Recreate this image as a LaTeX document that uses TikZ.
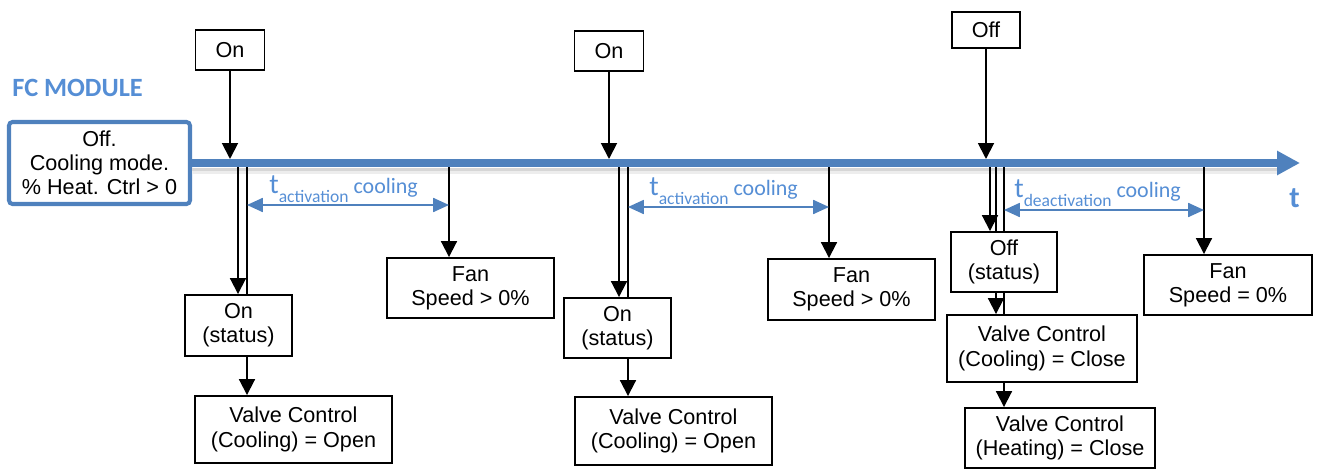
\documentclass[tikz,border=0pt]{standalone}
\usepackage{fontspec}
\setmainfont{Liberation Sans}
\newfontfamily\califont{Carlito}
\usetikzlibrary{arrows.meta}
\definecolor{fcblue}{HTML}{4F81BD}
\definecolor{fctext}{HTML}{558ED5}
% t with a lowered index, then the word after it
\newcommand{\tspan}[2]{{\fontsize{16}{17}\selectfont t}\raisebox{-5.5pt}{\fontsize{10}{11}\selectfont #1} #2}

\begin{document}
\begin{tikzpicture}[x=0.02cm, y=-0.02cm,
  box/.style={draw, line width=1.1pt, align=center, inner sep=0pt, font=\fontsize{12.3}{13.8}\selectfont},
  arr/.style={line width=1.1pt, -{Triangle[width=9pt,length=9pt]}},
  plain/.style={line width=1.1pt},
  dim/.style={fcblue, line width=0.9pt, {Triangle[width=8pt,length=9pt]}-{Triangle[width=8pt,length=9pt]}},
  tlab/.style={text=fctext, font=\califont\fontsize{12.5}{14}\selectfont, inner sep=0pt, anchor=base west},
]
\useasboundingbox (0,0) rectangle (1320,470);

% module state and time axis
\node[font=\califont\bfseries\fontsize{15}{18}\selectfont, text=fctext, anchor=west, inner sep=0pt] (title) at (12,88) {FC MODULE};
\node[box, draw=fcblue, line width=2.3pt, rounded corners=2pt, minimum width=3.62cm, minimum height=1.64cm] (src) at (99.5,163) {Off.\\Cooling mode.\\\% Heat. Ctrl > 0};
\coordinate (tend) at (1300,163);
\coordinate (tltop) at (0,159);
\draw[black!16, line width=0.06cm] (192,169) -- (1278,169);
\draw[black!7, line width=0.06cm] (192,172) -- (1278,172);
\draw[fcblue, line width=4pt, -{Triangle[width=13pt,length=13pt]}] (src.east) -- (tend);
\node[tlab, font=\califont\bfseries\fontsize{17}{20}\selectfont] (tax) at (1289,207) {t};

% first switch on
\node[box, minimum width=1.38cm, minimum height=0.8cm] (on1) at (230,50) {On};
\node[box, minimum width=2.14cm, minimum height=1.22cm] (stat1) at (238.5,325.5) {On\\(status)};
\node[box, minimum width=3.94cm, minimum height=1.34cm] (valve1) at (293.5,429.5) {Valve Control\\(Cooling) = Open};
\node[box, minimum width=3.34cm, minimum height=1.2cm] (fan1) at (470.5,288) {Fan\\Speed > 0\%};
\coordinate (a1) at (238,167);
\coordinate (b1) at (247,167);
\coordinate (f1) at (449,167);
\coordinate (dy1) at (0,205);
\draw[arr] (on1) -- (on1 |- tltop);
\draw[arr] (a1) -- (a1 |- stat1.north);
\draw[plain] (b1) -- (b1 |- stat1.north);
\draw[arr] (b1 |- stat1.south) -- (b1 |- valve1.north);
\draw[arr] (f1) -- (f1 |- fan1.north);
\draw[dim] (b1 |- dy1) -- (f1 |- dy1);
\node[tlab] (lab1) at (269,193) {\tspan{activation}{cooling}};

% second switch on
\node[box, minimum width=1.38cm, minimum height=0.8cm] (on2) at (609,51) {On};
\node[box, minimum width=2.14cm, minimum height=1.2cm] (stat2) at (617.5,328) {On\\(status)};
\node[box, minimum width=3.94cm, minimum height=1.36cm] (valve2) at (673.5,431) {Valve Control\\(Cooling) = Open};
\node[box, minimum width=3.34cm, minimum height=1.22cm] (fan2) at (851.5,289.5) {Fan\\Speed > 0\%};
\coordinate (a2) at (619,167);
\coordinate (b2) at (628,167);
\coordinate (f2) at (829,167);
\coordinate (dy2) at (0,207);
\draw[arr] (on2) -- (on2 |- tltop);
\draw[arr] (a2) -- (a2 |- stat2.north);
\draw[plain] (b2) -- (b2 |- stat2.north);
\draw[arr] (b2 |- stat2.south) -- (b2 |- valve2.north);
\draw[arr] (f2) -- (f2 |- fan2.north);
\draw[dim] (b2 |- dy2) -- (f2 |- dy2);
\node[tlab] (lab2) at (649,195) {\tspan{activation}{cooling}};

% switch off
\node[box, minimum width=1.36cm, minimum height=0.72cm] (off3) at (986,30) {Off};
\node[box, minimum width=2.12cm, minimum height=1.2cm] (stat3) at (1004,262) {Off\\(status)};
\node[box, minimum width=3.8cm, minimum height=1.34cm] (valvec3) at (1042,348.5) {Valve Control\\(Cooling) = Close};
\node[box, minimum width=3.8cm, minimum height=1.2cm] (valveh3) at (1060,438) {Valve Control\\(Heating) = Close};
\node[box, minimum width=3.36cm, minimum height=1.2cm] (fan3) at (1228,285) {Fan\\Speed = 0\%};
\coordinate (a3) at (990,167);
\coordinate (b3) at (996,167);
\coordinate (c3) at (1004,167);
\coordinate (f3) at (1204,167);
\coordinate (dy3) at (0,210);
\draw[arr] (off3) -- (off3 |- tltop);
\draw[arr] (a3) -- (a3 |- stat3.north);
\draw[plain] (b3) -- (b3 |- stat3.north);
\draw[plain] (c3) -- (c3 |- stat3.north);
\draw[arr] (b3 |- stat3.south) -- (b3 |- valvec3.north);
\draw[plain] (c3 |- stat3.south) -- (c3 |- valvec3.north);
\draw[arr] (c3 |- valvec3.south) -- (c3 |- valveh3.north);
\draw[arr] (f3) -- (f3 |- fan3.north);
\draw[dim] (c3 |- dy3) -- (f3 |- dy3);
\node[tlab] (lab3) at (1014,197) {\tspan{deactivation}{cooling}};
\end{tikzpicture}
\end{document}
